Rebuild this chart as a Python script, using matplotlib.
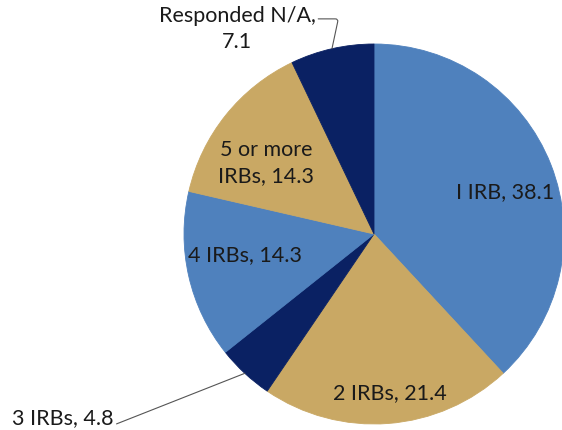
import matplotlib.pyplot as plt
import numpy as np

# data
categories = ["I IRB", "2 IRBs", "3 IRBs", "4 IRBs", "5 or more\nIRBs", "Responded N/A,\n"]
values = [38.1, 21.4, 4.8, 14.3, 14.3, 7.1]
colors = ["#4F81BD", "#C9A864", "#0A2163", "#4F81BD", "#C9A864", "#0A2163"]

W, H = 562, 431
CX, CY, R = 374, H - 235, 190

fig = plt.figure(figsize=(W / 100, H / 100), dpi=100)
ax = fig.add_axes([0, 0, 1, 1])

wedges, _ = ax.pie(values, colors=colors, startangle=90, counterclock=False,
                   center=(CX, CY), radius=R, frame=True,
                   wedgeprops=dict(linewidth=0.6, edgecolor="none"))
for w, c in zip(wedges, colors):
    w.set_edgecolor(c)

ax.set_xlim(0, W)
ax.set_ylim(0, H)
ax.set_aspect("equal")
ax.axis("off")

font = dict(family="Lato", fontsize=15.5, color="#1a1a1a")

def label_text(i):
    sep = "" if categories[i].endswith("\n") else ", "
    return f"{categories[i]}{sep}{values[i]}"

def edge_point(w, frac=1.0, dtheta=0.0):
    th = np.radians((w.theta1 + w.theta2) / 2 + dtheta)
    return CX + frac * R * np.cos(th), CY + frac * R * np.sin(th)

# labels inside the slices: (distance as fraction of radius, angle tweak)
inside = {0: (0.726, -3.2), 1: (0.836, 1.5), 3: (0.687, -4), 4: (0.683, 5)}
for i, (frac, dth) in inside.items():
    x, y = edge_point(wedges[i], frac, dth)
    ax.text(x, y, label_text(i), ha="center", va="center",
            linespacing=1.35, **font)

# labels outside with leader lines
x, y = edge_point(wedges[5])
ax.annotate(label_text(5), xy=(x, y), xytext=(237, H - 29),
            ha="center", va="center", linespacing=1.35,
            arrowprops=dict(arrowstyle="-", color="#555555", lw=0.8,
                            connectionstyle="angle,angleA=0,angleB=78,rad=3",
                            shrinkA=0, shrinkB=0, relpos=(1.0, 0.7)),
            **font)

x, y = edge_point(wedges[2])
ax.annotate(label_text(2), xy=(x, y), xytext=(63, H - 418),
            ha="center", va="center",
            arrowprops=dict(arrowstyle="-", color="#555555", lw=0.8,
                            shrinkA=0, shrinkB=0, relpos=(1.0, 0.1)),
            **font)

fig.savefig("out.png", dpi=100, facecolor="white")
